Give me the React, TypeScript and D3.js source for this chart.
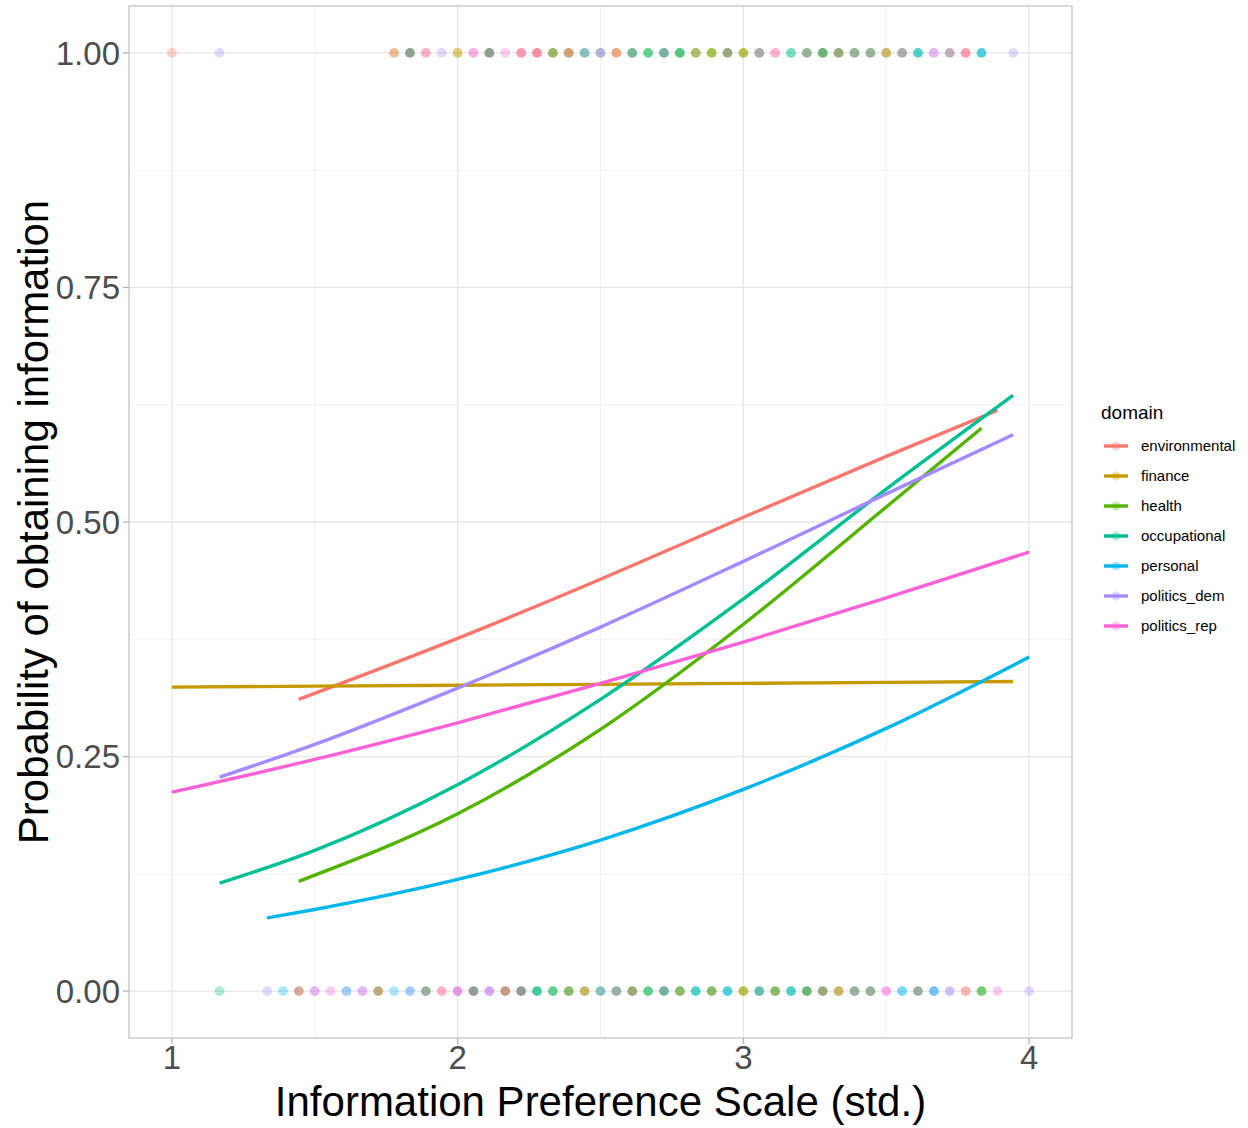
import React from 'react';
import * as d3 from 'd3';

// domain levels and the ggplot hue palette
const domains = ['environmental', 'finance', 'health', 'occupational', 'personal', 'politics_dem', 'politics_rep'];
const domainKeys = ['e', 'f', 'h', 'o', 'p', 'd', 'r'];
const palette = ['#F8766D', '#C49A00', '#53B400', '#00C094', '#00B6EB', '#A58AFF', '#FB61D7'];

// fitted curves (x = scale value, y = probability)
const envX = [1.444, 2, 2.5, 3, 3.5, 3.889];
const envY = [0.311, 0.376, 0.439, 0.505, 0.570, 0.619];
const finX = [1, 2, 3, 3.944];
const finY = [0.324, 0.326, 0.328, 0.330];
const healthX = [1.444, 2, 2.5, 3, 3.5, 3.833];
const healthY = [0.117, 0.189, 0.279, 0.391, 0.516, 0.600];
const occX = [1.167, 1.5, 2, 2.5, 3, 3.5, 3.944];
const occY = [0.115, 0.150, 0.220, 0.311, 0.418, 0.535, 0.635];
const persX = [1.333, 1.5, 2, 2.5, 3, 3.5, 4];
const persY = [0.078, 0.087, 0.119, 0.161, 0.215, 0.280, 0.356];
const demX = [1.167, 1.5, 2, 2.5, 3, 3.5, 3.944];
const demY = [0.228, 0.263, 0.323, 0.388, 0.458, 0.530, 0.593];
const repX = [1, 1.5, 2, 2.5, 3, 3.5, 4];
const repY = [0.212, 0.247, 0.286, 0.328, 0.372, 0.419, 0.468];

const curvesX = [envX, finX, healthX, occX, persX, demX, repX];
const curvesY = [envY, finY, healthY, occY, persY, demY, repY];

// raw observations: scale steps of 1/18 above 1, and which domains sit at each step
const STEP = 18;
const topSteps = [0, 3, 14, 15, 16, 17, 18, 19, 20, 21, 22, 23, 24, 25, 26, 27, 28, 29, 30, 31, 32, 33, 34, 35, 36, 37, 38, 39, 40, 41, 42, 43, 44, 45, 46, 47, 48, 49, 50, 51, 53];
const topMix = ['e', 'd', 'ef', 'efhopdr', 'er', 'd', 'ff', 'rr', 'efhopdr', 'r', 'eer', 'eeer', 'efho', 'efhr', 'ope', 'pde', 'eef', 'hoep', 'hoo', 'hoped', 'hhop', 'hhe', 'hhf', 'fhode', 'ffh', 'dpef', 'er', 'oo', 'hoed', 'hhope', 'fhode', 'hoed', 'hoed', 'fhe', 'dpef', 'oop', 'dr', 'ero', 'eer', 'ppo', 'd'];
const bottomSteps = [3, 6, 7, 8, 9, 10, 11, 12, 13, 14, 15, 16, 17, 18, 19, 20, 21, 22, 23, 24, 25, 26, 27, 28, 29, 30, 31, 32, 33, 34, 35, 36, 37, 38, 39, 40, 41, 42, 43, 44, 45, 46, 47, 48, 49, 50, 51, 52, 54];
const bottomMix = ['o', 'd', 'p', 'erh', 'rd', 'r', 'dp', 'rd', 'efhd', 'p', 'dp', 'hoed', 'er', 'rrd', 'efhopdr', 'drd', 'efhdr', 'efhopdr', 'hoop', 'oho', 'hhoe', 'fhe', 'ope', 'pdeh', 'fhode', 'hoo', 'hoped', 'hhoe', 'oop', 'hhoe', 'opp', 'ffh', 'oope', 'hhoe', 'oop', 'hhope', 'fhode', 'fhe', 'hoed', 'hoed', 'rr', 'pp', 'hoed', 'ppd', 'dd', 'ee', 'hho', 'r', 'd'];

const yTicks = [0, 0.25, 0.5, 0.75, 1];
const yMinor = [0.125, 0.375, 0.625, 0.875];
const xTicks = [1, 2, 3, 4];
const xMinor = [1.5, 2.5, 3.5];

const W = 1248;
const H = 1128;
const panel = { left: 129, right: 1072, top: 6, bottom: 1038 };
const FONT = 'Liberation Sans, Arial, Helvetica, sans-serif';
const ALPHA = 0.32;

function mixColor(mix: string) {
  const cols = mix.split('').map((k) => d3.rgb(palette[domainKeys.indexOf(k)]));
  const r = d3.mean(cols, (c) => c.r) as number;
  const g = d3.mean(cols, (c) => c.g) as number;
  const b = d3.mean(cols, (c) => c.b) as number;
  return { fill: d3.rgb(r, g, b).formatHex(), opacity: 1 - Math.pow(1 - ALPHA, cols.length) };
}

export default function App() {
  const x = d3.scaleLinear().domain([0.85, 4.15]).range([panel.left, panel.right]);
  const y = d3.scaleLinear().domain([-0.05, 1.05]).range([panel.bottom, panel.top]);

  const line = d3.line<[number, number]>()
    .x((d) => x(d[0]))
    .y((d) => y(d[1]))
    .curve(d3.curveMonotoneX);

  const dots = [
    ...topSteps.map((s, i) => ({ vx: 1 + s / STEP, vy: 1, ...mixColor(topMix[i]) })),
    ...bottomSteps.map((s, i) => ({ vx: 1 + s / STEP, vy: 0, ...mixColor(bottomMix[i]) })),
  ];

  const legendX = 1101;
  const legendY = 446;
  const legendGap = 30;

  return (
    <svg width={W} height={H} style={{ position: 'absolute', left: 0, top: 0, background: '#fff' }} fontFamily={FONT}>
      <rect x={0} y={0} width={W} height={H} fill="#fff" />

      {/* grid */}
      {yMinor.map((v) => (
        <line key={'ym' + v} x1={panel.left} x2={panel.right} y1={y(v)} y2={y(v)} stroke="#f2f2f2" strokeWidth={1} />
      ))}
      {xMinor.map((v) => (
        <line key={'xm' + v} x1={x(v)} x2={x(v)} y1={panel.top} y2={panel.bottom} stroke="#f2f2f2" strokeWidth={1} />
      ))}
      {yTicks.map((v) => (
        <line key={'yg' + v} x1={panel.left} x2={panel.right} y1={y(v)} y2={y(v)} stroke="#e6e6e6" strokeWidth={1.3} />
      ))}
      {xTicks.map((v) => (
        <line key={'xg' + v} x1={x(v)} x2={x(v)} y1={panel.top} y2={panel.bottom} stroke="#e6e6e6" strokeWidth={1.3} />
      ))}

      {/* observations */}
      {dots.map((d, i) => (
        <circle key={'pt' + i} cx={x(d.vx)} cy={y(d.vy)} r={4.9} fill={d.fill} fillOpacity={d.opacity} />
      ))}

      {/* fitted curves */}
      {domains.map((name, i) => (
        <path
          key={name}
          d={line(curvesX[i].map((v, j) => [v, curvesY[i][j]] as [number, number])) || ''}
          fill="none"
          stroke={palette[i]}
          strokeWidth={3.4}
          strokeLinecap="butt"
        />
      ))}

      {/* panel border */}
      <rect x={panel.left} y={panel.top} width={panel.right - panel.left} height={panel.bottom - panel.top} fill="none" stroke="#c4c4c4" strokeWidth={1.3} />

      {/* y axis */}
      {yTicks.map((v) => (
        <g key={'yt' + v}>
          <line x1={panel.left - 6} x2={panel.left} y1={y(v)} y2={y(v)} stroke="#b3b3b3" strokeWidth={1.3} />
          <text x={panel.left - 9} y={y(v)} dy="0.36em" textAnchor="end" fontSize={33} fill="#4d4d4d">
            {d3.format('.2f')(v)}
          </text>
        </g>
      ))}
      {/* x axis */}
      {xTicks.map((v) => (
        <g key={'xt' + v}>
          <line x1={x(v)} x2={x(v)} y1={panel.bottom} y2={panel.bottom + 6} stroke="#b3b3b3" strokeWidth={1.3} />
          <text x={x(v)} y={panel.bottom + 31} textAnchor="middle" fontSize={33} fill="#4d4d4d">
            {v}
          </text>
        </g>
      ))}

      <text x={(panel.left + panel.right) / 2} y={1116} textAnchor="middle" fontSize={42} fill="#000">
        Information Preference Scale (std.)
      </text>
      <text
        transform={`translate(48, ${(panel.top + panel.bottom) / 2}) rotate(-90)`}
        textAnchor="middle"
        fontSize={42}
        fill="#000"
      >
        Probability of obtaining information
      </text>

      {/* legend */}
      <text x={legendX} y={419} fontSize={19} fill="#000">domain</text>
      {domains.map((name, i) => {
        const ly = legendY + i * legendGap;
        return (
          <g key={'lg' + name}>
            <line x1={legendX + 3} x2={legendX + 27} y1={ly} y2={ly} stroke={palette[i]} strokeWidth={3.4} />
            <circle cx={legendX + 15} cy={ly} r={4.6} fill={palette[i]} fillOpacity={ALPHA} />
            <text x={legendX + 40} y={ly} dy="0.35em" fontSize={15} fill="#000">
              {name}
            </text>
          </g>
        );
      })}
    </svg>
  );
}
